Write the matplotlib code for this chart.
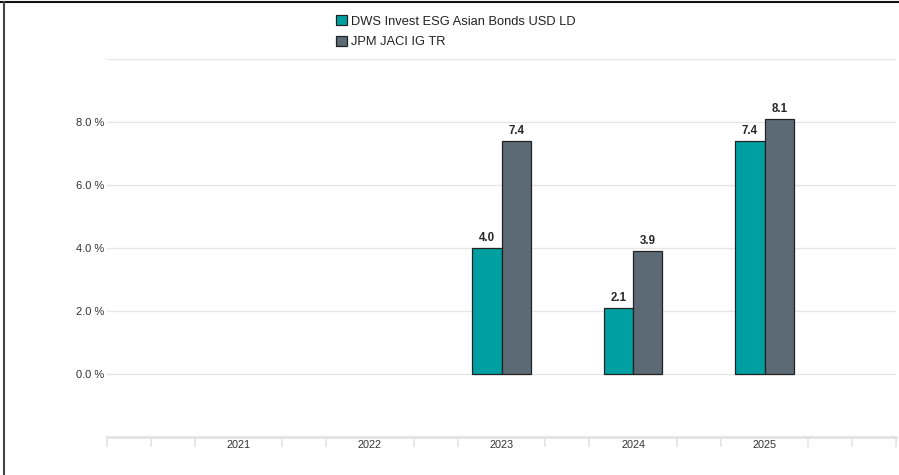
import matplotlib
matplotlib.use("Agg")
import matplotlib.pyplot as plt
from matplotlib.lines import Line2D
import numpy as np

plt.rcParams['font.family'] = ['Liberation Sans', 'DejaVu Sans']

years = ["2021", "2022", "2023", "2024", "2025"]
fund = [np.nan, np.nan, 4.0, 2.1, 7.4]
bench = [np.nan, np.nan, 7.4, 3.9, 8.1]
series_names = ["DWS Invest ESG Asian Bonds USD LD", "JPM JACI IG TR"]
ytick_vals = [0, 2, 4, 6, 8, 10]
ytick_labels = ["0.0 %", "2.0 %", "4.0 %", "6.0 %", "8.0 %", ""]

teal = "#00a0a2"
grey = "#5b6a75"

fig = plt.figure(figsize=(8.99, 4.75), dpi=100)
ax = fig.add_axes([107/899, 38/475, (896-107)/899, (437-59)/475])

x = np.arange(1, len(years) + 1)
w = 0.224
b1 = ax.bar(x - w/2, fund, w, color=teal, edgecolor="#222222", linewidth=0.9,
            label=series_names[0], zorder=3)
b2 = ax.bar(x + w/2, bench, w, color=grey, edgecolor="#222222", linewidth=0.9,
            label=series_names[1], zorder=3)

for bars, vals in ((b1, fund), (b2, bench)):
    for rect, v in zip(bars, vals):
        if np.isnan(v):
            continue
        ax.annotate(f"{v:.1f}", (rect.get_x() + rect.get_width()/2, v),
                    xytext=(0, 3), textcoords="offset points",
                    ha="center", va="bottom", fontsize=8.3,
                    fontweight="bold", color="#262626", zorder=4)

ax.set_xlim(0, 6)
ax.set_ylim(-2, 10)
ax.set_yticks(ytick_vals)
ax.set_yticklabels(ytick_labels)
ax.set_xticks(x)
ax.set_xticklabels(years)
minor = [k/3 for k in range(0, 19) if k % 3 != 0 or k in (0, 18)]
ax.set_xticks(minor, minor=True)

ax.tick_params(axis="y", length=0, pad=2, labelsize=8, labelcolor="#333333")
ax.tick_params(axis="x", which="major", length=0, pad=2, labelsize=7.8,
               labelcolor="#333333")
ax.tick_params(axis="x", which="minor", length=7, width=1.2, color="#e3e3e3")

ax.grid(axis="y", color="#e6e6e6", linewidth=1, zorder=0)
for s in ("left", "right", "top"):
    ax.spines[s].set_visible(False)
ax.spines["bottom"].set_color("#e3e3e3")
ax.spines["bottom"].set_linewidth(2)

leg = fig.legend(handles=[b1, b2], labels=series_names, loc="upper left",
                 bbox_to_anchor=(336/899, 1 - 15/475), frameon=False,
                 fontsize=9.3, handlelength=0.82, handleheight=0.82,
                 handletextpad=0.33, labelspacing=0.65, borderpad=0,
                 borderaxespad=0)
for t in leg.get_texts():
    t.set_color("#222222")

# outer frame (top and left)
fig.add_artist(Line2D([0, 1], [1 - 2/475, 1 - 2/475], transform=fig.transFigure,
                      color="#111111", linewidth=1.5))
fig.add_artist(Line2D([3.5/899, 3.5/899], [0, 1 - 2/475], transform=fig.transFigure,
                      color="#444444", linewidth=1.5))

fig.savefig("out.png", dpi=100)
